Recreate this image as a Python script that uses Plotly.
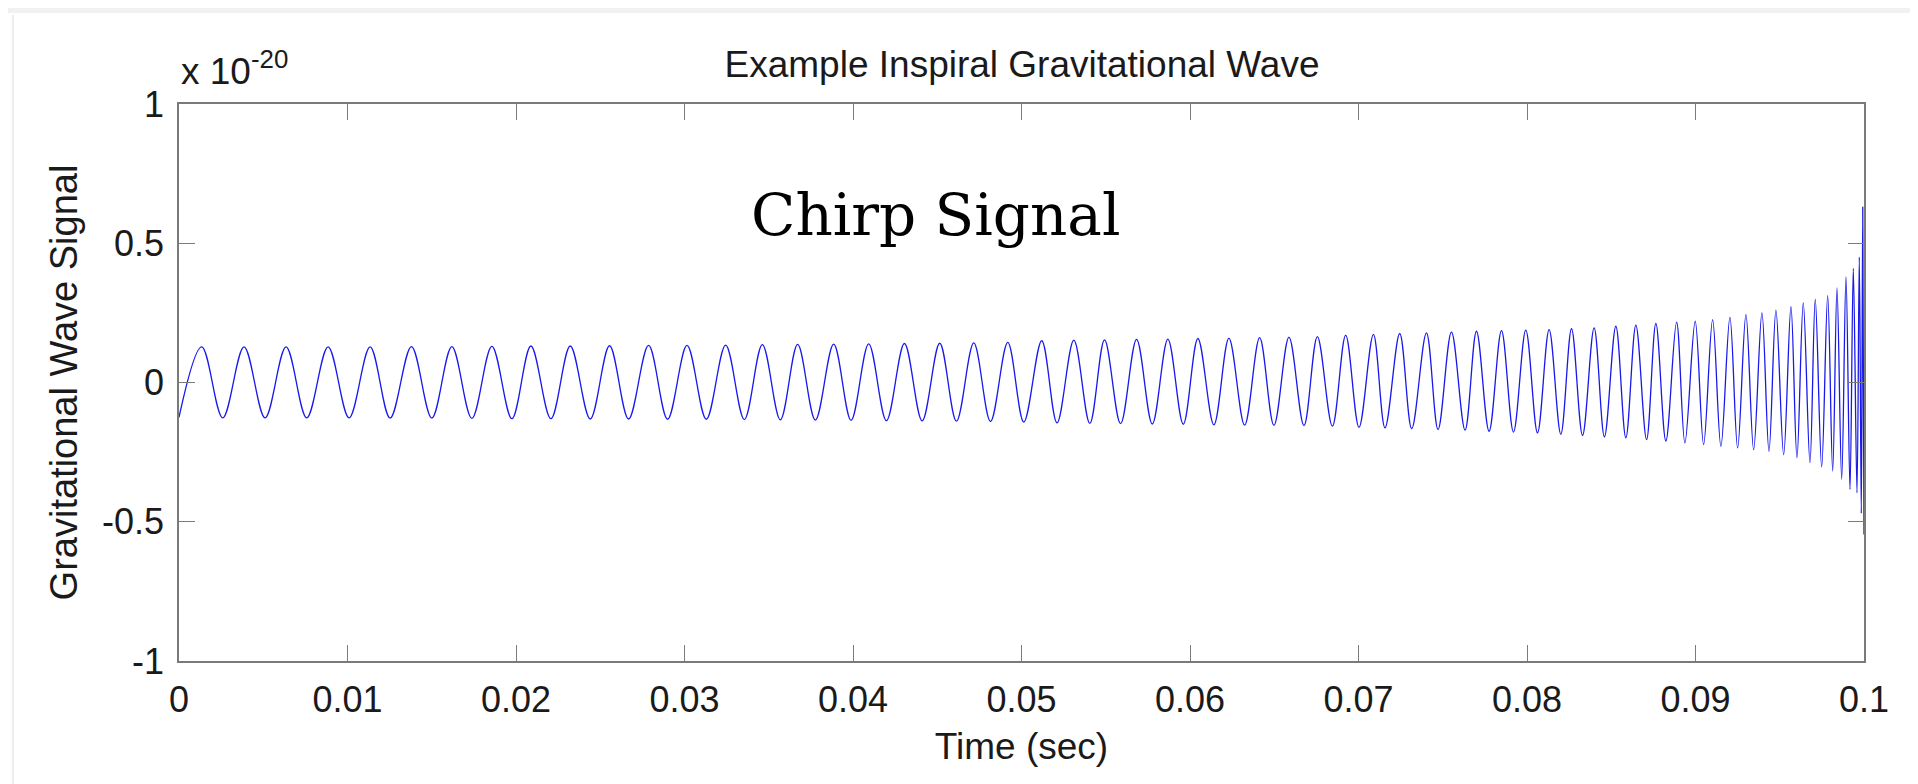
import plotly.graph_objects as go

# Extrema of the chirp (time in ms, strain in units of 1e-20)
ext_t_ms = [0.000, 1.348, 2.595, 3.860, 5.107, 6.354, 7.583, 8.848, 10.095, 11.342,
            12.530, 13.795, 15.006, 16.194, 17.381, 18.569, 19.757, 20.885, 22.073, 23.219,
            24.406, 25.552, 26.681, 27.868, 28.997, 30.149, 31.295, 32.441, 33.551, 34.620,
            35.689, 36.716, 37.767, 38.854, 39.887, 40.932, 41.983, 43.052, 44.103, 45.148,
            46.140, 47.168, 48.159, 49.186, 50.137, 51.200, 52.108, 53.106, 54.056, 54.929,
            55.879, 56.829, 57.762, 58.688, 59.602, 60.469, 61.419, 62.310, 63.242, 64.133,
            64.982, 65.873, 66.764, 67.559, 68.450, 69.240, 70.030, 70.885, 71.574, 72.447,
            73.159, 74.032, 74.721, 75.517, 76.324, 77.001, 77.750, 78.486, 79.198, 79.929,
            80.624, 81.312, 82.007, 82.642, 83.296, 83.984, 84.596, 85.273, 85.867, 86.461,
            87.096, 87.648, 88.242, 88.877, 89.371, 89.982, 90.481, 91.015, 91.508, 92.043,
            92.500, 92.993, 93.450, 93.943, 94.360, 94.774, 95.232, 95.665, 96.021, 96.396,
            96.793, 97.108, 97.488, 97.844, 98.141, 98.397, 98.676, 98.931, 99.169, 99.365,
            99.584, 99.721, 99.840, 99.925, 100.000]

ext_h = [-0.125, 0.128, -0.127, 0.128, -0.127, 0.128, -0.127, 0.128, -0.127, 0.128,
         -0.128, 0.129, -0.128, 0.129, -0.129, 0.130, -0.130, 0.131, -0.130, 0.131,
         -0.131, 0.132, -0.131, 0.133, -0.132, 0.133, -0.132, 0.134, -0.133, 0.136,
         -0.134, 0.137, -0.135, 0.138, -0.136, 0.139, -0.137, 0.140, -0.138, 0.141,
         -0.139, 0.142, -0.140, 0.144, -0.142, 0.150, -0.145, 0.152, -0.147, 0.153,
         -0.148, 0.155, -0.149, 0.156, -0.150, 0.158, -0.152, 0.159, -0.153, 0.161,
         -0.154, 0.163, -0.155, 0.165, -0.157, 0.170, -0.161, 0.173, -0.163, 0.176,
         -0.166, 0.178, -0.169, 0.181, -0.171, 0.184, -0.175, 0.186, -0.178, 0.188,
         -0.181, 0.190, -0.186, 0.193, -0.190, 0.196, -0.195, 0.202, -0.199, 0.206,
         -0.205, 0.212, -0.210, 0.217, -0.217, 0.220, -0.223, 0.226, -0.229, 0.234,
         -0.235, 0.244, -0.241, 0.250, -0.247, 0.260, -0.259, 0.272, -0.270, 0.286,
         -0.288, 0.298, -0.303, 0.312, -0.318, 0.340, -0.348, 0.380, -0.384, 0.410,
         -0.396, 0.450, -0.470, 0.630, -0.546]

x_ticks = [0, 0.01, 0.02, 0.03, 0.04, 0.05, 0.06, 0.07, 0.08, 0.09, 0.1]
x_labels = ["0", "0.01", "0.02", "0.03", "0.04", "0.05", "0.06", "0.07", "0.08", "0.09", "0.1"]
y_ticks = [-1, -0.5, 0, 0.5, 1]
y_labels = ["-1", "-0.5", "0", "0.5", "1"]

t_sec = [t / 1000.0 for t in ext_t_ms]

fig = go.Figure(go.Scatter(
    x=t_sec, y=ext_h,
    mode="lines",
    line=dict(color="rgb(25,25,235)", width=1.3, shape="spline", smoothing=1),
    showlegend=False,
))

axis_style = dict(
    showgrid=False, zeroline=False,
    showline=True, linecolor="#7a7a7a", linewidth=1.5, mirror="ticks",
    ticks="inside", ticklen=16, tickwidth=1.3, tickcolor="#7a7a7a",
    tickfont=dict(family="Liberation Sans", size=36, color="#1a1a1a"),
)

fig.update_xaxes(range=[0, 0.1], tickvals=x_ticks, ticktext=x_labels,
                 ticklabelstandoff=6,
                 title=dict(text="Time (sec)", standoff=14,
                            font=dict(family="Liberation Sans", size=37, color="#1a1a1a")),
                 **axis_style)
fig.update_yaxes(range=[-1, 1], tickvals=y_ticks, ticktext=y_labels,
                 ticklabelstandoff=6,
                 title=dict(text="Gravitational Wave Signal", standoff=13,
                            font=dict(family="Liberation Sans", size=38, color="#1a1a1a")),
                 **axis_style)

fig.update_layout(
    width=1918, height=784,
    margin=dict(l=171, r=62, t=96, b=131),
    paper_bgcolor="white", plot_bgcolor="white",
    title=dict(text="Example Inspiral Gravitational Wave", x=0.5287, xanchor="center",
               y=0.929, yanchor="middle",
               font=dict(family="Liberation Sans", size=37, color="#1a1a1a")),
    annotations=[
        dict(text="x 10<sup>-20</sup>", xref="paper", yref="paper", x=0, y=1,
             xanchor="left", yanchor="bottom", yshift=10, showarrow=False,
             font=dict(family="Liberation Sans", size=37, color="#1a1a1a")),
        dict(text="Chirp Signal", xref="x", yref="y", x=0.0449, y=0.60,
             xanchor="center", yanchor="middle", showarrow=False,
             font=dict(family="DejaVu Serif", size=58, color="black")),
    ],
    shapes=[
        # light grey strip along the top of the screenshot
        dict(type="rect", xref="paper", yref="paper", x0=-0.11, x1=1.04,
             y0=1.1634, y1=1.19, line_width=0, fillcolor="#f1f1f1", layer="below"),
        dict(type="line", xref="paper", yref="paper", x0=-0.0986, x1=-0.0986,
             y0=-0.23, y1=1.16, line=dict(color="#ececec", width=2)),
    ],
)

fig.write_html("out.html")
